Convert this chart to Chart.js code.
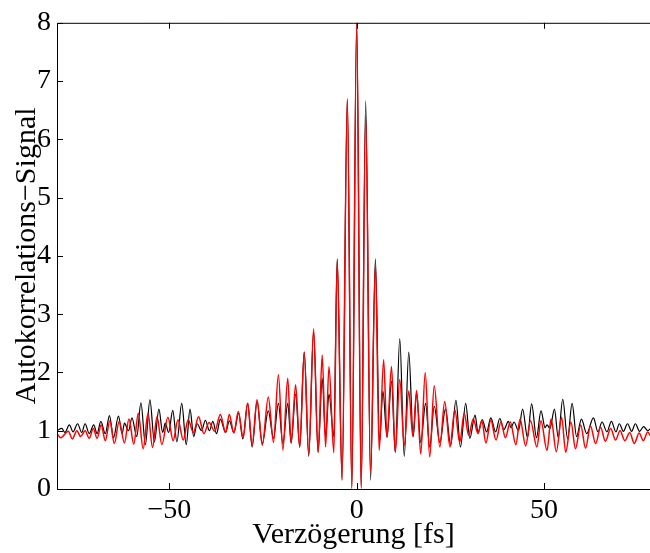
<!DOCTYPE html>
<html>
<head>
<meta charset="utf-8">
<script src="https://cdn.jsdelivr.net/npm/chart.js@4"></script>
<style>
  html, body { margin: 0; padding: 0; background: #fff; }
  #wrap { width: 650px; height: 553px; }
</style>
</head>
<body>
<div id="wrap"><canvas id="acf"></canvas></div>
<script>
const delayBlack = [
  -80.0, -78.7, -77.9, -76.7, -75.7, -74.5, -73.4, -72.5, -71.4, -70.2,
  -69.3, -68.3, -67.1, -66.0, -64.9, -63.6, -62.6, -62.0, -60.9, -60.0,
  -58.7, -57.6, -56.4, -55.2, -54.0, -52.8, -51.8, -51.1, -50.2, -49.1,
  -48.0, -46.7, -45.5, -44.5, -43.5, -42.6, -41.4, -40.4, -39.3, -38.4,
  -37.4, -36.4, -35.0, -34.0, -32.8, -31.5, -30.4, -29.1, -27.9, -26.6,
  -25.2, -23.6, -22.2, -20.9, -19.7, -18.4, -17.5, -16.3, -15.2, -14.0,
  -12.8, -11.5, -10.3, -9.2, -8.3, -7.4, -6.1, -5.2, -3.9, -2.5,
  -1.3, 0.0, 1.2, 2.4, 3.7, 5.0, 6.1, 7.0, 8.1, 9.3,
  10.3, 11.5, 12.7, 13.9, 15.1, 16.0, 17.1, 18.4, 19.5, 20.7,
  22.2, 23.7, 25.1, 26.5, 27.7, 29.1, 30.2, 31.6, 32.4, 33.5,
  34.7, 35.8, 37.1, 38.2, 39.3, 40.5, 41.2, 42.0, 43.2, 44.3,
  45.6, 46.7, 48.0, 49.2, 50.3, 50.8, 51.6, 52.8, 53.8, 55.0,
  56.3, 57.5, 58.7, 60.0, 61.4, 63.2, 64.4, 65.5, 66.8, 68.0,
  69.2, 70.1, 71.2, 72.3, 73.4, 74.4, 75.5, 76.6, 77.7, 78.3
];
const signalBlack = [
  1.00, 1.04, 0.97, 1.10, 0.98, 1.12, 0.97, 1.12, 0.95, 1.10,
  0.95, 1.16, 0.95, 1.26, 0.88, 1.25, 0.95, 1.13, 1.00, 1.22,
  0.90, 1.48, 0.76, 1.53, 0.81, 1.37, 0.97, 1.13, 0.97, 1.35,
  0.81, 1.47, 0.76, 1.37, 0.90, 1.12, 1.00, 1.18, 1.00, 1.16,
  0.95, 1.20, 0.97, 1.17, 0.97, 1.30, 0.86, 1.47, 0.72, 1.50,
  0.78, 1.34, 0.87, 1.47, 0.78, 1.47, 0.79, 1.63, 0.72, 2.35,
  0.56, 2.70, 0.63, 1.90, 0.89, 1.63, 0.90, 3.95, 0.16, 6.69,
  0.02, 8.00, 0.02, 6.66, 0.15, 3.95, 0.80, 1.68, 0.89, 1.85,
  0.63, 2.58, 0.56, 2.35, 0.90, 1.65, 0.80, 1.47, 0.72, 1.42,
  0.80, 1.37, 0.75, 1.52, 0.72, 1.47, 0.87, 1.27, 0.97, 1.19,
  0.98, 1.22, 0.98, 1.21, 1.02, 1.16, 1.05, 1.15, 1.00, 1.37,
  0.88, 1.46, 0.88, 1.34, 1.05, 1.10, 1.04, 1.37, 0.88, 1.54,
  0.86, 1.47, 0.90, 1.20, 0.95, 1.22, 0.98, 1.15, 0.98, 1.16,
  0.98, 1.12, 0.99, 1.12, 0.99, 1.12, 0.99, 1.07, 1.00, 1.03
];
const delayRed = [
  -80.0, -79.0, -77.0, -75.9, -74.7, -73.7, -72.5, -71.4, -70.3, -69.3,
  -68.2, -67.1, -65.9, -64.7, -63.4, -62.0, -60.8, -59.5, -58.3, -57.0,
  -55.7, -54.5, -53.3, -52.0, -50.4, -49.0, -47.7, -46.3, -45.0, -43.6,
  -42.2, -40.8, -39.4, -37.9, -36.4, -35.0, -34.0, -32.8, -31.6, -30.3,
  -29.1, -27.9, -26.6, -25.2, -23.6, -22.2, -20.9, -19.7, -18.4, -17.5,
  -16.3, -15.2, -14.0, -12.8, -11.5, -10.3, -9.2, -8.3, -7.4, -6.1,
  -5.2, -3.9, -2.5, -1.3, 0.0, 1.2, 2.4, 3.7, 5.0, 6.0,
  7.2, 8.1, 9.3, 10.3, 11.5, 12.7, 13.9, 15.0, 16.0, 17.1,
  18.3, 19.5, 20.7, 22.2, 23.5, 24.9, 26.2, 27.5, 28.7, 29.9,
  31.1, 32.4, 33.4, 34.5, 35.8, 37.2, 38.5, 39.7, 41.0, 42.5,
  43.6, 45.1, 46.4, 48.1, 49.2, 50.8, 51.9, 53.3, 54.7, 55.8,
  57.2, 58.4, 59.8, 61.1, 62.4, 63.8, 65.1, 66.4, 67.8, 69.1,
  70.3, 71.6, 72.9, 74.1, 75.4, 76.5, 77.7, 78.3
];
const signalRed = [
  0.95, 0.88, 0.99, 0.86, 1.00, 0.90, 1.00, 0.87, 1.04, 0.87,
  1.10, 0.83, 1.17, 0.78, 1.16, 0.79, 1.20, 0.77, 1.30, 0.69,
  1.30, 0.71, 1.24, 0.76, 1.23, 0.83, 1.19, 0.84, 1.19, 0.97,
  1.24, 0.95, 1.14, 0.99, 1.28, 0.97, 1.28, 0.96, 1.33, 0.88,
  1.47, 0.76, 1.53, 0.75, 1.58, 0.80, 1.96, 0.67, 1.90, 0.79,
  1.79, 0.72, 2.35, 0.60, 2.75, 0.63, 2.30, 0.72, 2.10, 0.62,
  3.92, 0.15, 6.70, 0.00, 8.00, 0.00, 6.41, 0.30, 3.85, 0.66,
  2.22, 0.89, 2.10, 0.63, 1.88, 0.75, 1.68, 0.90, 1.69, 0.60,
  2.00, 0.55, 1.77, 0.72, 1.50, 0.72, 1.36, 0.80, 1.30, 0.92,
  1.20, 0.95, 1.17, 0.79, 1.18, 0.84, 1.15, 0.88, 1.15, 0.76,
  1.20, 0.74, 1.17, 0.72, 1.17, 0.66, 1.20, 0.64, 1.23, 0.63,
  1.15, 0.69, 1.10, 0.70, 1.08, 0.78, 1.06, 0.82, 1.04, 0.84,
  1.00, 0.83, 0.97, 0.78, 0.96, 0.83, 0.98, 0.92
];
const xTickValues = [-50, 0, 50];
const yTickValues = [0, 1, 2, 3, 4, 5, 6, 7, 8];

const serif = "'Liberation Serif', 'DejaVu Serif', serif";

// MATLAB style box with inward ticks
const frameAndTicks = {
  id: "frameAndTicks",
  afterDatasetsDraw(chart) {
    const { ctx, chartArea: a, scales: { x, y } } = chart;
    const len = 6;
    ctx.save();
    ctx.strokeStyle = "#000";
    ctx.lineWidth = 1;
    ctx.beginPath();
    ctx.moveTo(a.right, a.top + 0.5);
    ctx.lineTo(a.left + 0.5, a.top + 0.5);
    ctx.lineTo(a.left + 0.5, a.bottom + 0.5);
    ctx.lineTo(a.right, a.bottom + 0.5);
    xTickValues.forEach(v => {
      const px = Math.round(x.getPixelForValue(v)) + 0.5;
      ctx.moveTo(px, a.bottom);
      ctx.lineTo(px, a.bottom - len);
      ctx.moveTo(px, a.top);
      ctx.lineTo(px, a.top + len);
    });
    yTickValues.forEach(v => {
      const py = Math.round(y.getPixelForValue(v)) + 0.5;
      ctx.moveTo(a.left, py);
      ctx.lineTo(a.left + len, py);
    });
    ctx.stroke();
    ctx.restore();
  }
};

const toPoints = (xs, ys) => xs.map((v, i) => ({ x: v, y: ys[i] }));

new Chart(document.getElementById("acf").getContext("2d"), {
  type: "line",
  data: {
    datasets: [
      {
        label: "rot",
        data: toPoints(delayRed, signalRed),
        borderColor: "#ff0000",
        borderWidth: 1.5,
        pointRadius: 0,
        cubicInterpolationMode: "monotone"
      },
      {
        label: "schwarz",
        data: toPoints(delayBlack, signalBlack),
        borderColor: "#000000",
        borderWidth: 1.2,
        pointRadius: 0,
        cubicInterpolationMode: "monotone"
      }
    ]
  },
  options: {
    responsive: true,
    maintainAspectRatio: false,
    animation: false,
    layout: { padding: { top: 18, right: 0, left: 0, bottom: 0 } },
    plugins: {
      legend: { display: false },
      tooltip: { enabled: false }
    },
    scales: {
      x: {
        type: "linear",
        min: -80,
        max: 78.3,
        afterBuildTicks: s => { s.ticks = xTickValues.map(v => ({ value: v })); },
        afterFit: s => { s.height = 64; },
        grid: { display: false, drawTicks: false },
        border: { display: false },
        ticks: {
          color: "#000",
          padding: 5,
          maxRotation: 0,
          font: { family: serif, size: 28 },
          callback: v => String(v).replace("-", "\u2212")
        },
        title: {
          display: true,
          text: "Verzögerung [fs]",
          color: "#000",
          padding: 0,
          font: { family: serif, size: 30 }
        }
      },
      y: {
        min: 0,
        max: 8,
        afterBuildTicks: s => { s.ticks = yTickValues.map(v => ({ value: v })); },
        afterFit: s => { s.width = 57; },
        grid: { display: false, drawTicks: false },
        border: { display: false },
        ticks: {
          color: "#000",
          padding: 6,
          font: { family: serif, size: 28 }
        },
        title: {
          display: true,
          text: "Autokorrelations\u2212Signal",
          color: "#000",
          padding: { top: 9, bottom: 0 },
          font: { family: serif, size: 30 }
        }
      }
    }
  },
  plugins: [frameAndTicks]
});
</script>
</body>
</html>
